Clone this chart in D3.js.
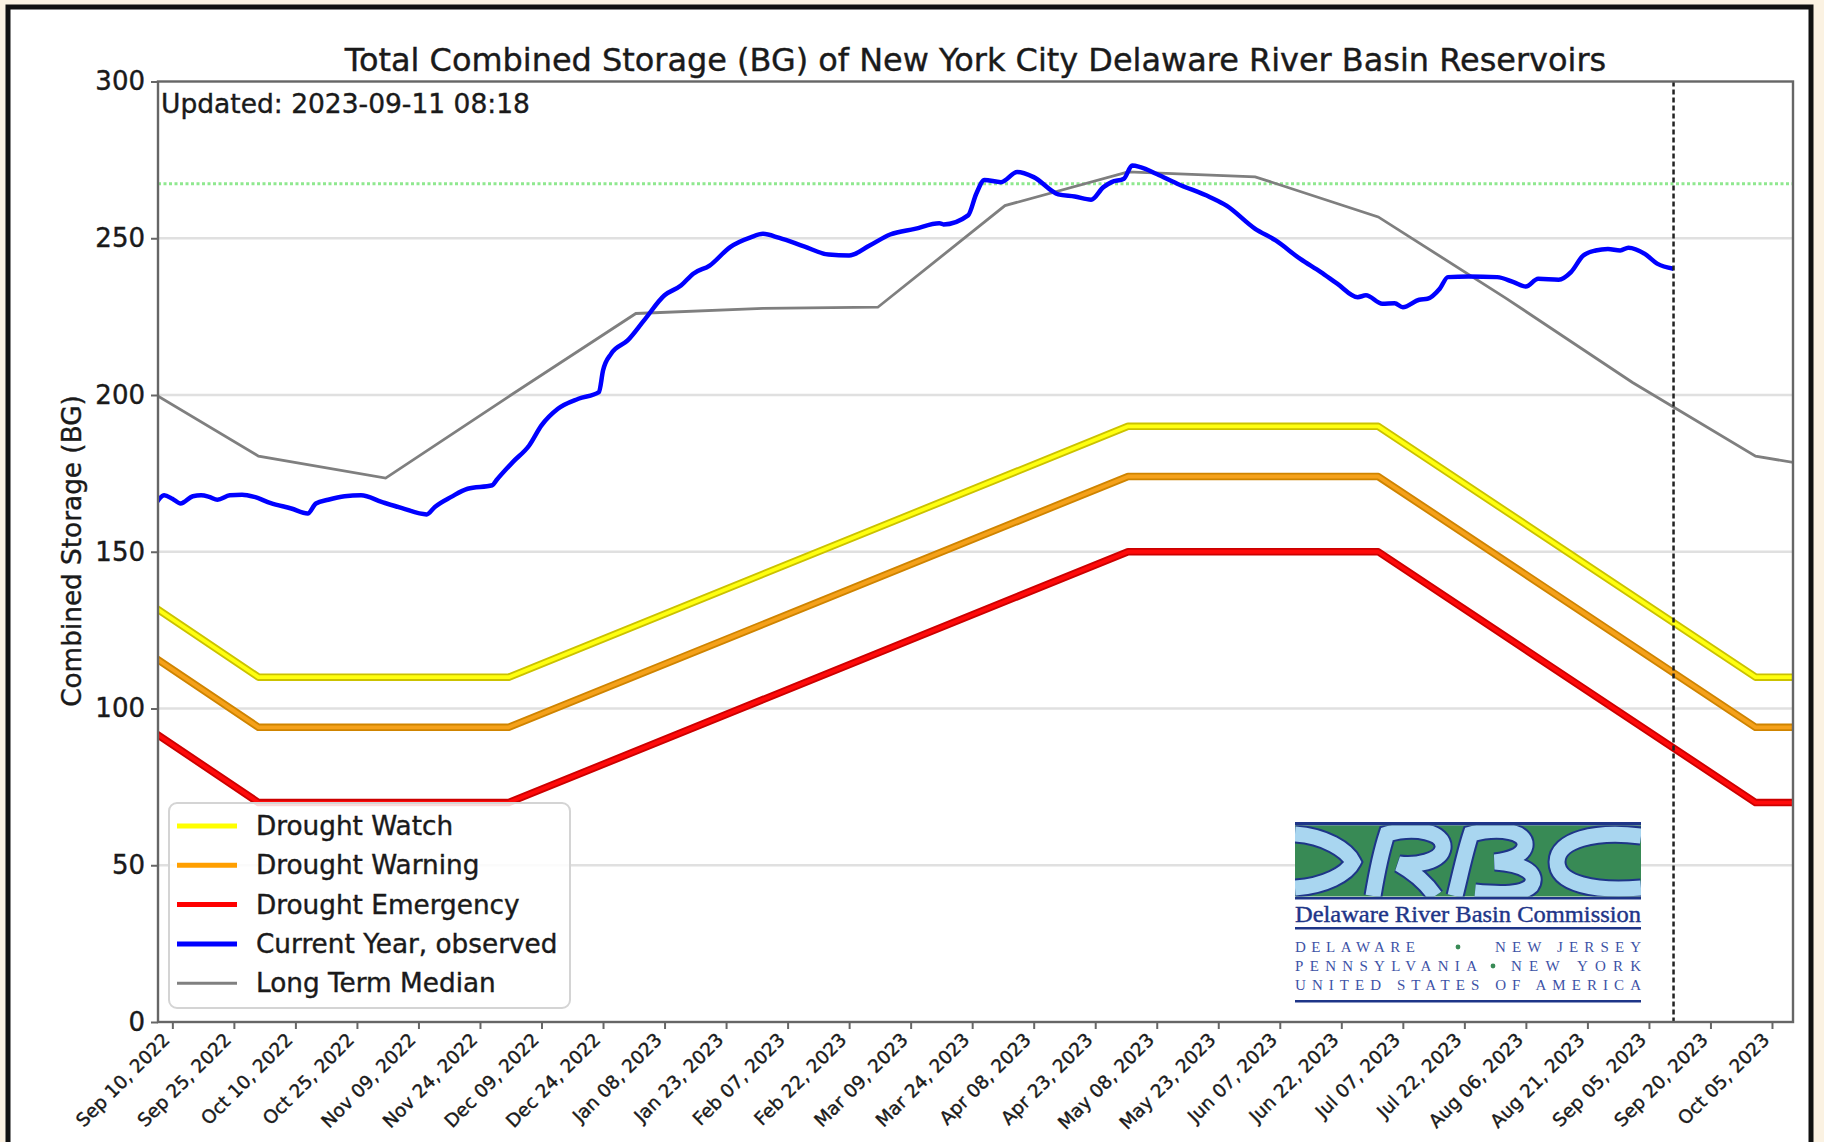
<!DOCTYPE html>
<html><head><meta charset="utf-8">
<script src="https://cdn.jsdelivr.net/npm/d3@7/dist/d3.min.js"></script>
<style>
html,body{margin:0;padding:0;background:#fbf2e2;overflow:hidden;}
svg{display:block;font-family:"DejaVu Sans",sans-serif;}
.tx{stroke:#1a1a1a;stroke-width:0.4px;}
</style></head><body>
<svg id="chart" width="1824" height="1142"></svg>
<script>
// ---------------- DATA ----------------
const chartTitle = "Total Combined Storage (BG) of New York City Delaware River Basin Reservoirs";
const updatedLabel = "Updated: 2023-09-11 08:18";
const yAxisLabel = "Combined Storage (BG)";
const yTickValues = [0, 50, 100, 150, 200, 250, 300];
const xTickLabels = ["Sep 10, 2022","Sep 25, 2022","Oct 10, 2022","Oct 25, 2022","Nov 09, 2022","Nov 24, 2022",
  "Dec 09, 2022","Dec 24, 2022","Jan 08, 2023","Jan 23, 2023","Feb 07, 2023","Feb 22, 2023","Mar 09, 2023",
  "Mar 24, 2023","Apr 08, 2023","Apr 23, 2023","May 08, 2023","May 23, 2023","Jun 07, 2023","Jun 22, 2023",
  "Jul 07, 2023","Jul 22, 2023","Aug 06, 2023","Aug 21, 2023","Sep 05, 2023","Sep 20, 2023","Oct 05, 2023"];
const xDomain = ["2022-09-06T12:00", "2023-10-10T03:00"];
const updatedDate = "2023-09-11";
const fullStorageLine = 267.4;

const ruleDates = ["2022-09-06","2022-10-01","2022-12-01","2023-05-01","2023-07-01","2023-10-01","2023-10-11"];
const droughtWatch     = [132, 110, 110, 190, 190, 110, 110];
const droughtWarning   = [116,  94,  94, 174, 174,  94,  94];
const droughtEmergency = [ 92,  70,  70, 150, 150,  70,  70];

const medianDates = ["2022-09-06","2022-10-01","2022-11-01","2022-12-01","2023-01-01","2023-02-01","2023-03-01",
  "2023-04-01","2023-05-01","2023-06-01","2023-07-01","2023-08-01","2023-09-01","2023-10-01","2023-10-11"];
const medianValues = [200, 180.5, 173.5, 199.5, 226, 227.6, 228, 260.4, 271.2, 269.6, 256.8, 231, 204, 180.5, 178.3];

const currentDates = ["2022-09-06","2022-09-08","2022-09-10","2022-09-12","2022-09-15","2022-09-17","2022-09-19",
  "2022-09-21","2022-09-24","2022-09-27","2022-09-30","2022-10-04","2022-10-09","2022-10-13","2022-10-15",
  "2022-10-18","2022-10-22","2022-10-26","2022-10-31","2022-11-05","2022-11-11","2022-11-13","2022-11-17",
  "2022-11-21","2022-11-27","2022-11-28","2022-12-02","2022-12-06","2022-12-09","2022-12-13","2022-12-18",
  "2022-12-23","2022-12-24","2022-12-26","2022-12-30","2023-01-03","2023-01-08","2023-01-12","2023-01-15",
  "2023-01-19","2023-01-24","2023-01-29","2023-02-01","2023-02-05","2023-02-11","2023-02-17","2023-02-22",
  "2023-02-27","2023-03-04","2023-03-10","2023-03-16","2023-03-17","2023-03-23","2023-03-25","2023-03-27",
  "2023-03-31","2023-04-04","2023-04-08","2023-04-14","2023-04-18","2023-04-22","2023-04-25","2023-04-27",
  "2023-04-30","2023-05-02","2023-05-04","2023-05-08","2023-05-13","2023-05-21","2023-05-25","2023-06-01",
  "2023-06-06","2023-06-12","2023-06-17","2023-06-21","2023-06-26","2023-06-28","2023-07-02","2023-07-05",
  "2023-07-07","2023-07-11","2023-07-13","2023-07-16","2023-07-18","2023-07-23","2023-07-30","2023-08-03",
  "2023-08-06","2023-08-09","2023-08-14","2023-08-17","2023-08-20","2023-08-23","2023-08-26","2023-08-29",
  "2023-08-31","2023-09-04","2023-09-07","2023-09-11"];
const currentValues = [165.4, 168.0, 166.9, 165.4, 167.7, 168.0, 167.5,
  166.6, 168.0, 168.2, 167.5, 165.5, 163.8, 162.2, 165.4,
  166.6, 167.7, 168.0, 165.9, 163.9, 161.9, 164.3, 167.5,
  170.1, 171.2, 172.8, 178.6, 183.9, 190.3, 195.6, 198.8,
  200.9, 207.8, 213.2, 217.4, 223.8, 231.8, 234.9, 238.7,
  241.3, 247.2, 250.3, 251.4, 250.1, 247.4, 244.8, 244.5,
  247.7, 251.2, 253.0, 254.8, 254.4, 257.3, 264.2, 268.6,
  267.9, 271.1, 269.5, 264.0, 263.3, 262.3, 266.3, 267.9,
  269.0, 273.2, 272.7, 270.5, 267.4, 263.1, 260.4, 253.0,
  249.3, 243.4, 239.2, 235.5, 231.2, 231.8, 229.1, 229.3,
  228.0, 230.4, 230.7, 233.9, 237.6, 237.8, 237.6, 236.0,
  234.6, 237.1, 236.8, 239.2, 244.5, 246.1, 246.6, 246.1,
  247.0, 245.0, 241.9, 240.3];

const legendLabels = ["Drought Watch","Drought Warning","Drought Emergency","Current Year, observed","Long Term Median"];
const legendColors = ["#ffff00","#ff9f00","#ff0000","#0000ff","#808080"];

// ---------------- LAYOUT ----------------
const svg = d3.select("#chart");
const M = {left:158, right:1793, top:81.5, bottom:1022};
const parseD = d3.isoParse;
const x = d3.scaleTime().domain(xDomain.map(parseD)).range([M.left, M.right]);
const y = d3.scaleLinear().domain([0,300]).range([M.bottom, M.top]);

// outer frame
svg.append("rect").attr("x",0).attr("y",0).attr("width",1824).attr("height",1142).attr("fill","#fbf2e2");
svg.append("rect").attr("x",8).attr("y",7).attr("width",1803).attr("height",1160)
  .attr("fill","#ffffff").attr("stroke","#111").attr("stroke-width",5);

svg.append("defs").append("clipPath").attr("id","plotclip")
  .append("rect").attr("x",M.left).attr("y",M.top).attr("width",M.right-M.left).attr("height",M.bottom-M.top);

// gridlines
svg.append("g").selectAll("line").data(yTickValues.filter(v=>v>0 && v<300)).join("line")
  .attr("x1",M.left).attr("x2",M.right).attr("y1",d=>y(d)).attr("y2",d=>y(d))
  .attr("stroke","#e0e0e0").attr("stroke-width",2.4);

const plot = svg.append("g").attr("clip-path","url(#plotclip)");

// full storage dotted line
plot.append("line").attr("x1",M.left).attr("x2",M.right).attr("y1",y(fullStorageLine)).attr("y2",y(fullStorageLine))
  .attr("stroke","#8fe88f").attr("stroke-width",3).attr("stroke-dasharray","3,2.5");

const ruleLine = d3.line().x((d,i)=>x(parseD(ruleDates[i]))).y(d=>y(d));
function drawRule(vals, under, over){
  plot.append("path").attr("d",ruleLine(vals)).attr("fill","none").attr("stroke",under).attr("stroke-width",7.5).attr("stroke-linejoin","round");
  plot.append("path").attr("d",ruleLine(vals)).attr("fill","none").attr("stroke",over).attr("stroke-width",3.8).attr("stroke-linejoin","round");
}
drawRule(droughtWatch, "#cbc200", "#ffff10");
drawRule(droughtWarning, "#cf8400", "#f5a11a");
drawRule(droughtEmergency, "#cc0000", "#ff0a0a");

// median
plot.append("path").attr("d", d3.line().x((d,i)=>x(parseD(medianDates[i]))).y(d=>y(d))(medianValues))
  .attr("fill","none").attr("stroke","#7f7f7f").attr("stroke-width",2.8);

// current year
plot.append("path").attr("d", d3.line().curve(d3.curveMonotoneX).x((d,i)=>x(parseD(currentDates[i]))).y(d=>y(d))(currentValues))
  .attr("fill","none").attr("stroke","#0000ff").attr("stroke-width",4.5).attr("stroke-linejoin","round");

// updated vertical dashed line
plot.append("line").attr("x1",x(parseD(updatedDate))).attr("x2",x(parseD(updatedDate)))
  .attr("y1",M.top).attr("y2",M.bottom).attr("stroke","#222").attr("stroke-width",2.5).attr("stroke-dasharray","5,3");

// spines
svg.append("rect").attr("x",M.left).attr("y",M.top).attr("width",M.right-M.left).attr("height",M.bottom-M.top)
  .attr("fill","none").attr("stroke","#666").attr("stroke-width",2.4);

// y axis
const yAxis = svg.append("g").attr("transform",`translate(${M.left},0)`)
  .call(d3.axisLeft(y).tickValues(yTickValues).tickSize(7).tickPadding(6).tickFormat(d3.format("d")));
yAxis.select(".domain").remove();
yAxis.selectAll("line").attr("stroke","#666").attr("stroke-width",2);
yAxis.selectAll("text").attr("class","tx").attr("font-size",26).attr("fill","#1a1a1a").attr("font-family","DejaVu Sans");

// x axis
const parseTick = d3.timeParse("%b %d, %Y");
const xTickDates = xTickLabels.map(parseTick);
const xAxis = svg.append("g").attr("transform",`translate(0,${M.bottom})`)
  .call(d3.axisBottom(x).tickValues(xTickDates).tickSize(7).tickFormat((d,i)=>xTickLabels[i]));
xAxis.select(".domain").remove();
xAxis.selectAll("line").attr("stroke","#666").attr("stroke-width",2);
xAxis.selectAll("text").attr("class","tx").attr("font-size",18.5).attr("fill","#1a1a1a").attr("font-family","DejaVu Sans")
  .attr("text-anchor","end").attr("dy",null).attr("y",null)
  .attr("transform","translate(-2,19) rotate(-45)");

// title
const t = svg.append("text").attr("class","tx").attr("x",(M.left+M.right)/2).attr("y",71).attr("text-anchor","middle")
  .attr("font-size",31).attr("fill","#1a1a1a").text(chartTitle);
const tw = t.node().getComputedTextLength();
t.attr("font-size", 31*1262/tw);

svg.append("text").attr("class","tx").attr("x",161).attr("y",113).attr("font-size",26.5).attr("fill","#1a1a1a").text(updatedLabel);

svg.append("text").attr("class","tx").attr("transform","translate(72,551) rotate(-90)").attr("text-anchor","middle")
  .attr("dominant-baseline","central").attr("font-size",26.3).attr("fill","#1a1a1a").text(yAxisLabel);

// legend
const lg = svg.append("g");
lg.append("rect").attr("x",169).attr("y",803).attr("width",401).attr("height",205).attr("rx",8)
  .attr("fill","#ffffff").attr("fill-opacity",0.85).attr("stroke","#d4d4d4").attr("stroke-width",2);
legendLabels.forEach((lab,i)=>{
  const yy = 826 + i*39.3;
  lg.append("line").attr("x1",177).attr("x2",237).attr("y1",yy).attr("y2",yy)
    .attr("stroke",legendColors[i]).attr("stroke-width",i===4?3:5);
  lg.append("text").attr("class","tx").attr("x",256).attr("y",yy).attr("dominant-baseline","central")
    .attr("font-size",26.3).attr("fill","#1a1a1a").text(lab);
});

// DRBC logo
const logo = svg.append("g").attr("transform","translate(1295,822)");
const dk = "#1e3588", lb = "#a9d6f0", gr = "#388a55";
logo.append("rect").attr("x",0).attr("y",0).attr("width",346).attr("height",3.5).attr("fill",dk);
logo.append("rect").attr("x",0).attr("y",3.5).attr("width",346).attr("height",71).attr("fill",gr);
const shapes = [
  "M0,12 C30,14 52,28 58,40 C52,52 30,64 0,66",
  "M78,74 C82,50 86,30 92,12 C120,4 150,10 148,26 C146,40 120,44 104,42 C118,50 132,62 140,74",
  "M160,74 C166,50 170,30 176,12 C206,4 232,10 230,24 C228,34 214,38 200,40 C230,42 244,52 236,64 C226,74 200,72 180,70",
  "M346,14 C300,8 262,18 262,40 C262,62 300,70 346,66"
];
const clipLogo = logo.append("clipPath").attr("id","logoclip");
clipLogo.append("rect").attr("x",0).attr("y",3.5).attr("width",346).attr("height",71);
const sg = logo.append("g").attr("clip-path","url(#logoclip)");
shapes.forEach(p=>{
  sg.append("path").attr("d",p).attr("fill","none").attr("stroke",dk).attr("stroke-width",19).attr("stroke-linecap","butt");
  sg.append("path").attr("d",p).attr("fill","none").attr("stroke",lb).attr("stroke-width",15).attr("stroke-linecap","butt");
});
logo.append("rect").attr("x",0).attr("y",75).attr("width",346).attr("height",2.5).attr("fill",dk);
logo.append("text").attr("x",0).attr("y",100).attr("font-family","Liberation Serif").attr("font-size",23)
  .attr("fill",dk).attr("stroke",dk).attr("stroke-width",0.4)
  .attr("textLength",346).attr("lengthAdjust","spacingAndGlyphs").text("Delaware River Basin Commission");
logo.append("rect").attr("x",0).attr("y",105).attr("width",346).attr("height",2.5).attr("fill",dk);
const mb = "#3d52a6";
const capStyle = s=>s.attr("font-family","Liberation Serif").attr("font-size",15).attr("fill",mb);
capStyle(logo.append("text").attr("x",0).attr("y",130).attr("textLength",120).attr("lengthAdjust","spacing")).text("DELAWARE");
logo.append("circle").attr("cx",163).attr("cy",125).attr("r",2.4).attr("fill",gr);
capStyle(logo.append("text").attr("x",346).attr("y",130).attr("text-anchor","end").attr("textLength",146).attr("lengthAdjust","spacing")).text("NEW JERSEY");
capStyle(logo.append("text").attr("x",0).attr("y",149).attr("textLength",182).attr("lengthAdjust","spacing")).text("PENNSYLVANIA");
logo.append("circle").attr("cx",198).attr("cy",144).attr("r",2.4).attr("fill",gr);
capStyle(logo.append("text").attr("x",346).attr("y",149).attr("text-anchor","end").attr("textLength",130).attr("lengthAdjust","spacing")).text("NEW YORK");
capStyle(logo.append("text").attr("x",0).attr("y",168).attr("textLength",346).attr("lengthAdjust","spacing")).text("UNITED STATES OF AMERICA");
logo.append("rect").attr("x",0).attr("y",178).attr("width",346).attr("height",2.5).attr("fill",dk);
</script>
</body></html>
